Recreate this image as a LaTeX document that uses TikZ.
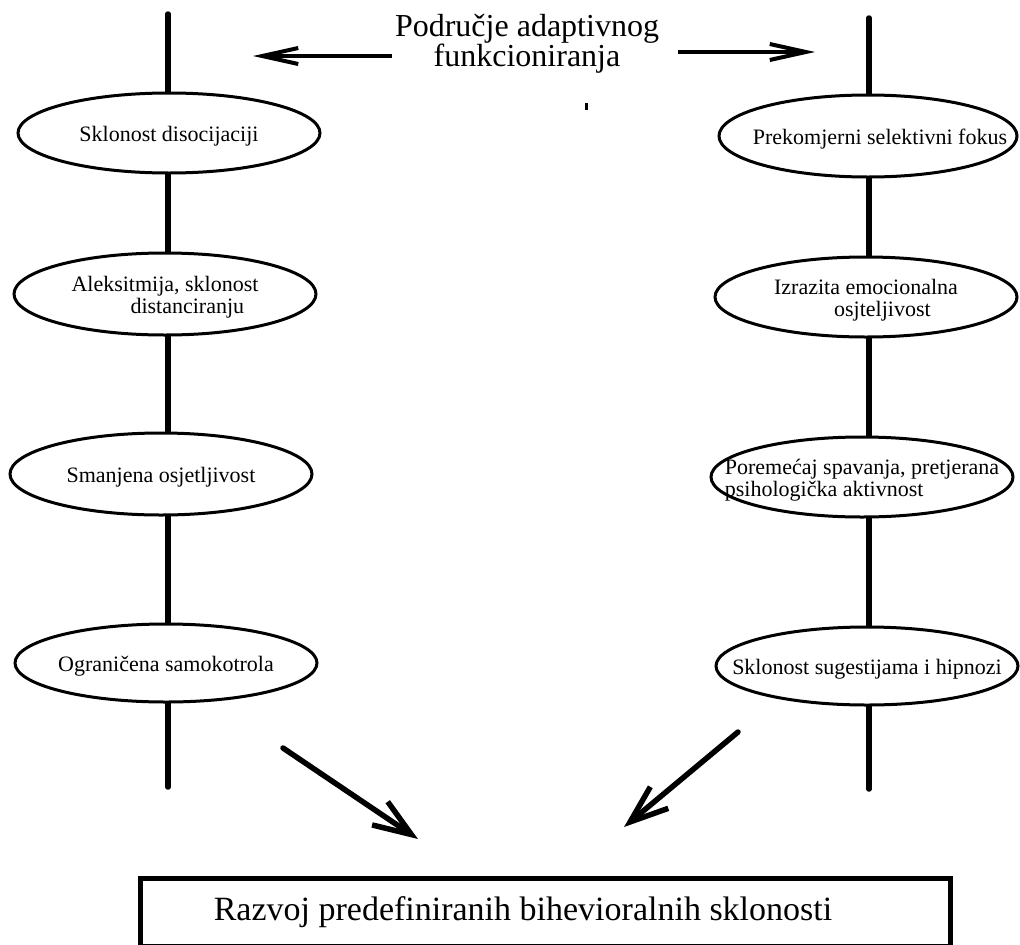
\documentclass[tikz,border=0pt]{standalone}
\usepackage{fontspec}
\setmainfont{Liberation Serif}
\usetikzlibrary{arrows.meta, shapes.geometric}

\newcommand{\traittext}[1]{\makebox[0pt]{\smash{\raisebox{-9pt}{\begin{tabular}{@{}l@{}}#1\end{tabular}}}}}

\begin{document}
\begin{tikzpicture}[x=1pt, y=-1pt,
    trait/.style={ellipse, draw, line width=3pt, fill=white, minimum width=302pt,
        minimum height=80pt, inner sep=0pt, font=\fontsize{22pt}{21pt}\selectfont},
    spine/.style={line width=5.5pt, line cap=round},
    toparrow/.style={line width=4pt, -{Straight Barb[length=36pt, width=16pt]}},
    downarrow/.style={line width=5.5pt, line cap=round, -{Straight Barb[length=38pt, width=28pt]}}]
    \useasboundingbox (0,0) rectangle (1020,945);

    % Ends of the two vertical lines
    \coordinate (ltop) at (168,14);
    \coordinate (lbot) at (168,787);
    \coordinate (rtop) at (869,18);
    \coordinate (rbot) at (869,789);
    \draw[spine] (ltop) -- (lbot);
    \draw[spine] (rtop) -- (rbot);

    % Title and its arrows
    \node[font=\fontsize{32pt}{30pt}\selectfont, align=center] (title) at (527,44) {Područje adaptivnog\\funkcioniranja};
    \coordinate (ltail) at (392,56);
    \coordinate (ltip) at (253,56);
    \coordinate (rtail) at (678,52);
    \coordinate (rtip) at (815,52);
    \draw[toparrow] (ltail) -- (ltip);
    \draw[toparrow] (rtail) -- (rtip);
    \fill (585,103) rectangle (588,110);

    % Left column
    \node[trait] (dis) at (169,133) {\traittext{Sklonost disocijaciji}};
    \node[trait, minimum height=82pt] (alek) at (165,294) {\traittext{Aleksitmija, sklonost\\\hspace*{59pt}distanciranju}};
    \node[trait, minimum height=82pt] (smanj) at (161,474) {\traittext{Smanjena osjetljivost}};
    \node[trait, minimum height=78pt] (ogran) at (166,663) {\traittext{Ograničena samokotrola}};

    % Right column
    \node[trait, minimum width=298pt, minimum height=82pt] (fokus) at (868,136) {\traittext{\hspace*{24pt}Prekomjerni selektivni fokus}};
    \node[trait] (emoc) at (866,297) {\traittext{Izrazita emocionalna\\\hspace*{60pt}osjteljivost}};
    \node[trait] (spav) at (862,477) {\traittext{Poremećaj spavanja, pretjerana\\psihologička aktivnost}};
    \node[trait, minimum height=78pt] (sugest) at (867,666) {\traittext{Sklonost sugestijama i hipnozi}};

    % Arrows down to the result
    \coordinate (lfrom) at (283,748);
    \coordinate (lto) at (418,839);
    \coordinate (rfrom) at (738,732);
    \coordinate (rto) at (624,827);
    \draw[downarrow] (lfrom) -- (lto);
    \draw[downarrow] (rfrom) -- (rto);

    % Result box
    \node[draw, line width=5pt, minimum width=810pt, minimum height=68pt,
        font=\fontsize{34pt}{36pt}\selectfont] (result) at (545,912) {\makebox[0pt]{Razvoj predefiniranih bihevioralnih sklonosti\hspace*{44pt}}};
\end{tikzpicture}
\end{document}
